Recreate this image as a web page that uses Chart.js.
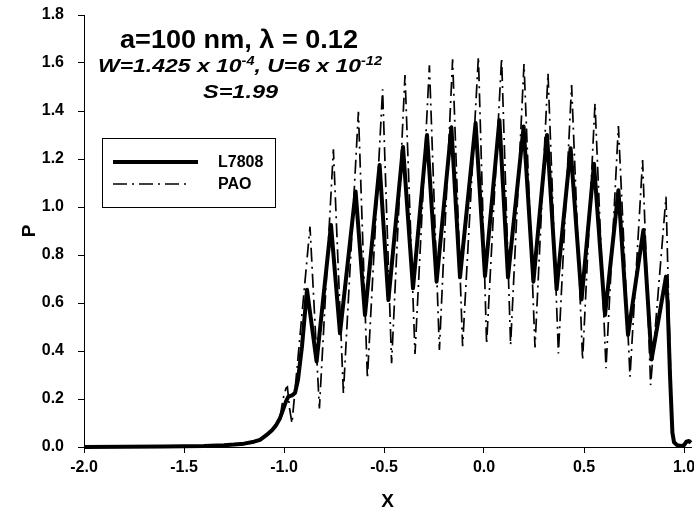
<!DOCTYPE html>
<html>
<head>
<meta charset="utf-8">
<script src="https://cdn.jsdelivr.net/npm/chart.js@4.4.1/dist/chart.umd.min.js"></script>
<style>
  body { margin: 0; background: #fff; }
  canvas { display: block; }
</style>
</head>
<body>
<canvas id="chart" width="694" height="522"></canvas>
<script>
// Données : X et P pour chaque courbe
const seriesNames = ['L7808', 'PAO'];

const xL7808 = [-2.0, -1.8, -1.6, -1.5, -1.4, -1.3, -1.25, -1.2, -1.15, -1.12, -1.09, -1.06, -1.04, -1.02,
  -1.005, -0.99, -0.978, -0.96, -0.945, -0.93, -0.91, -0.885, -0.837, -0.765, -0.72, -0.642, -0.595,
  -0.522, -0.478, -0.405, -0.355, -0.285, -0.237, -0.163, -0.12, -0.042, 0.005, 0.077, 0.12, 0.198,
  0.247, 0.315, 0.363, 0.433, 0.488, 0.55, 0.605, 0.672, 0.72, 0.797, 0.838, 0.91, 0.918, 0.93,
  0.942, 0.95, 0.965, 0.985, 1.0, 1.012, 1.025, 1.035];
const pL7808 = [0.0, 0.001, 0.002, 0.003, 0.004, 0.007, 0.01, 0.014, 0.022, 0.03, 0.048, 0.07, 0.09, 0.12,
  0.155, 0.19, 0.21, 0.215, 0.225, 0.28, 0.42, 0.655, 0.356, 0.925, 0.474, 1.065, 0.55,
  1.175, 0.612, 1.25, 0.661, 1.30, 0.689, 1.332, 0.707, 1.35, 0.712, 1.362, 0.707, 1.335,
  0.689, 1.30, 0.657, 1.245, 0.615, 1.18, 0.55, 1.07, 0.467, 0.904, 0.365, 0.71, 0.6, 0.3,
  0.06, 0.02, 0.008, 0.004, 0.008, 0.022, 0.025, 0.018];

const xPAO = [-2.0, -1.8, -1.6, -1.5, -1.4, -1.3, -1.25, -1.2, -1.15, -1.12, -1.09, -1.06, -1.04, -1.02,
  -1.005, -0.99, -0.983, -0.972, -0.96, -0.87, -0.823, -0.753, -0.703, -0.628, -0.583, -0.507, -0.462,
  -0.395, -0.345, -0.273, -0.223, -0.157, -0.107, -0.028, 0.013, 0.088, 0.133, 0.2, 0.255, 0.32,
  0.372, 0.438, 0.493, 0.555, 0.61, 0.672, 0.73, 0.793, 0.833, 0.91, 0.925, 0.94, 0.95, 0.96];
const pPAO = [0.0, 0.001, 0.002, 0.003, 0.004, 0.007, 0.01, 0.014, 0.022, 0.03, 0.048, 0.07, 0.09, 0.12,
  0.2, 0.245, 0.25, 0.16, 0.099, 0.918, 0.161, 1.24, 0.224, 1.397, 0.286, 1.49, 0.349,
  1.55, 0.3875, 1.59, 0.404, 1.615, 0.42, 1.626, 0.429, 1.62, 0.425, 1.596, 0.415, 1.557,
  0.39, 1.508, 0.3625, 1.432, 0.328, 1.3375, 0.293, 1.196, 0.258, 1.043, 0.55, 0.1, 0.02, 0.01];

const xTicks = [-2.0, -1.5, -1.0, -0.5, 0.0, 0.5, 1.0];
const yTicks = [0.0, 0.2, 0.4, 0.6, 0.8, 1.0, 1.2, 1.4, 1.6, 1.8];

const FONT = '"Liberation Sans", Arial, sans-serif';

function toPoints(xs, ys) {
  return xs.map((x, i) => ({ x: x, y: ys[i] }));
}

// écrit une suite de morceaux (texte normal / exposant) étirée à la largeur voulue
function drawPieces(ctx, pieces, x, y, width) {
  let total = 0;
  pieces.forEach(p => {
    ctx.font = p.font;
    total += ctx.measureText(p.t).width;
  });
  const k = width / total;
  ctx.save();
  ctx.translate(x, y);
  ctx.scale(k, 1);
  let cx = 0;
  pieces.forEach(p => {
    ctx.font = p.font;
    ctx.fillText(p.t, cx, p.dy || 0);
    cx += ctx.measureText(p.t).width;
  });
  ctx.restore();
}

const annotations = {
  id: 'annotations',
  afterDraw(chart) {
    const ctx = chart.ctx;
    ctx.save();
    ctx.fillStyle = '#000';
    ctx.textBaseline = 'alphabetic';
    ctx.textAlign = 'left';

    const big = 'bold 25px ' + FONT;
    const it = 'italic bold 19px ' + FONT;
    const sup = 'italic bold 12px ' + FONT;
    drawPieces(ctx, [{ t: 'a=100 nm, λ = 0.12', font: big }], 120, 48, 238);
    drawPieces(ctx, [
      { t: 'W=1.425 x 10', font: it },
      { t: '-4', font: sup, dy: -7 },
      { t: ', U=6 x 10', font: it },
      { t: '-12', font: sup, dy: -7 }
    ], 98, 72, 284);
    drawPieces(ctx, [{ t: 'S=1.99', font: it }], 203, 98, 75);

    // légende
    ctx.strokeStyle = '#000';
    ctx.lineWidth = 1;
    ctx.strokeRect(102.5, 138.5, 173, 69);
    const ds = chart.data.datasets;
    const rows = [162, 184];
    ds.forEach((d, i) => {
      ctx.save();
      ctx.lineWidth = d.borderWidth;
      ctx.setLineDash(d.borderDash || []);
      ctx.lineCap = 'butt';
      ctx.beginPath();
      ctx.moveTo(113, rows[i]);
      ctx.lineTo(i === 0 ? 198 : 191, rows[i]);
      ctx.stroke();
      ctx.restore();
      ctx.font = 'bold 16px ' + FONT;
      ctx.textBaseline = 'middle';
      ctx.fillText(d.label, 218, rows[i] + 1);
    });
    ctx.restore();
  }
};

const axisCommon = {
  border: { display: true, color: '#000', width: 1 },
  grid: { display: true, drawOnChartArea: false, drawTicks: true, tickLength: 6, color: '#000', lineWidth: 1 }
};

const chart = new Chart(document.getElementById('chart'), {
  type: 'line',
  data: {
    datasets: [
      {
        label: seriesNames[0],
        data: toPoints(xL7808, pL7808),
        borderColor: '#000',
        borderWidth: 4,
        borderJoinStyle: 'round',
        pointRadius: 0,
        tension: 0,
        clip: false,
        order: 1
      },
      {
        label: seriesNames[1],
        data: toPoints(xPAO, pPAO),
        borderColor: '#000',
        borderWidth: 1.7,
        borderDash: [14, 5, 2, 5],
        pointRadius: 0,
        tension: 0,
        clip: false,
        order: 0
      }
    ]
  },
  options: {
    responsive: false,
    animation: false,
    layout: { padding: { left: 0, top: 15, right: 3, bottom: 0 } },
    plugins: { legend: { display: false }, tooltip: { enabled: false } },
    scales: {
      x: {
        ...axisCommon,
        type: 'linear',
        position: 'bottom',
        min: -2,
        max: 1.035,
        afterBuildTicks: s => { s.ticks = xTicks.map(v => ({ value: v })); },
        afterFit: s => { s.height = 75; s.paddingLeft = 0; s.paddingRight = 0; },
        ticks: {
          color: '#000',
          font: { family: FONT, size: 16, weight: 'bold' },
          padding: 5,
          maxRotation: 0,
          autoSkip: false,
          callback: v => v.toFixed(1)
        },
        title: {
          display: true,
          text: 'X',
          color: '#000',
          font: { family: FONT, size: 19, weight: 'bold' },
          padding: { top: 0, bottom: 9 }
        }
      },
      y: {
        ...axisCommon,
        type: 'linear',
        min: 0,
        max: 1.8,
        afterBuildTicks: s => { s.ticks = yTicks.map(v => ({ value: v })); },
        afterFit: s => { s.width = 84; s.paddingTop = 0; s.paddingBottom = 0; },
        ticks: {
          color: '#000',
          font: { family: FONT, size: 16, weight: 'bold' },
          padding: 14,
          autoSkip: false,
          callback: v => v.toFixed(1)
        },
        title: {
          display: true,
          text: 'P',
          color: '#000',
          font: { family: FONT, size: 19, weight: 'bold' },
          padding: { top: 18, bottom: 0 }
        }
      }
    }
  },
  plugins: [annotations]
});
</script>
</body>
</html>
